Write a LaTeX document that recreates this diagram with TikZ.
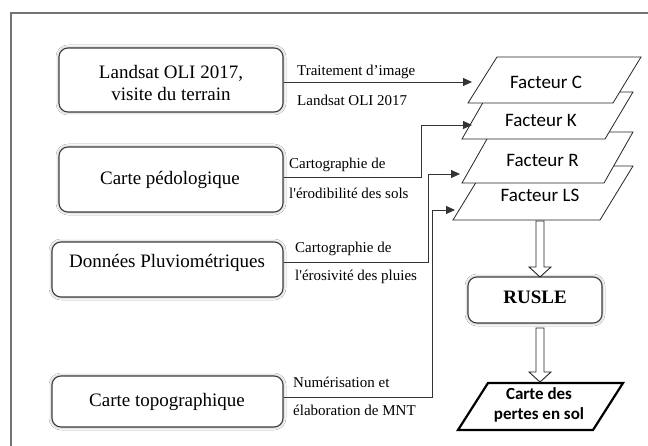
\documentclass[tikz,border=0pt]{standalone}
\usepackage{fontspec}
\setmainfont{Liberation Serif}
\newfontfamily\calfont{Carlito}
\usetikzlibrary{arrows.meta,shadows.blur,calc}
\begin{document}
\begin{tikzpicture}[x=1pt,y=-1pt,
  inbox/.style={draw=black!75,line width=1.1pt,rounded corners=9pt,fill=white,inner sep=0pt,
    blur shadow={shadow xshift=0pt,shadow yshift=0pt,shadow blur radius=3pt,shadow opacity=45}},
  boxtext/.style={font=\fontsize{19}{22}\selectfont,inner sep=0pt,align=center},
  lbl/.style={font=\fontsize{15}{17}\selectfont,anchor=west,inner sep=0pt},
  ln/.style={draw=black!80,line width=0.8pt},
  arr/.style={ln,-{Triangle[length=9pt,width=8pt]}},
  para/.style={draw=black!85,line width=0.8pt,fill=white},
  fac/.style={font=\calfont\fontsize{19}{22}\selectfont,inner sep=0pt},
  hollow/.style={draw=black!85,line width=0.9pt,fill=white}
]
\useasboundingbox (0,0) rectangle (648,446);
\fill[white] (0,0) rectangle (648,446);
\draw[black!55,line width=1.3pt] (11,447) -- (11,13) -- (649,13);

% left boxes
\node[inbox,minimum width=224pt,minimum height=64pt] (b1) at (171,80) {};
\node[inbox,minimum width=224pt,minimum height=65pt] (b2) at (171,179.5) {};
\node[inbox,minimum width=231pt,minimum height=55pt] (b3) at (167.5,269.5) {};
\node[inbox,minimum width=231pt,minimum height=51pt] (b4) at (167.5,401.5) {};
\node[boxtext] (t1) at (171,83) {Landsat OLI 2017,\\visite du terrain};
\node[boxtext] (t2) at (170,180) {Carte pédologique};
\node[boxtext] (t3) at (167,263) {Données Pluviométriques};
\node[boxtext] (t4) at (167,402) {Carte topographique};

% factor parallelograms (bottom first)
\path[para] (486,166) -- (633,166) -- (600,220) -- (453,220) -- cycle;
\path[para] (491,132) -- (633,132) -- (604,183) -- (462,183) -- cycle;
\path[para] (489,92) -- (633,92) -- (605,139) -- (462,139) -- cycle;
\path[para] (497,57) -- (641,57) -- (613,103) -- (468,103) -- cycle;
\node[fac] (fC) at (546,82) {Facteur C};
\node[fac] (fK) at (541,120) {Facteur K};
\node[fac] (fR) at (542.5,160) {Facteur R};
\node[fac] (fLS) at (540,195) {Facteur LS};

% RUSLE
\node[inbox,minimum width=134pt,minimum height=46pt] (rusle) at (535,300) {};
\node[font=\bfseries\fontsize{19}{22}\selectfont,inner sep=0pt] (rt) at (535,297) {RUSLE};

% result
\path[draw=black,line width=2.2pt,fill=white,line join=miter] (488,383) -- (623,383) -- (593,430) -- (458,430) -- cycle;
\node[font=\calfont\bfseries\fontsize{17}{20}\selectfont,inner sep=0pt,align=center] (carte) at (539,405) {Carte des\\pertes en sol};

% hollow arrows
\path[hollow] (536,221) -- (544,221) -- (544,267) -- (551,267) -- (540,277) -- (529,267) -- (536,267) -- cycle;
\path[hollow] (536,328) -- (544,328) -- (544,372) -- (551,372) -- (540,382) -- (529,372) -- (536,372) -- cycle;

% connector coordinates
\coordinate (tC) at (472,82);
\coordinate (vK) at (421,125);
\coordinate (tK) at (472,125);
\coordinate (vR) at (428,174);
\coordinate (tR) at (460,174);
\coordinate (vLS) at (432,210);
\coordinate (tLS) at (455,210);

\draw[arr] ([yshift=-2pt]b1.east) -- (tC);
\draw[arr] ([yshift=2pt]b2.east) -| (vK) -- (tK);
\draw[arr] ([yshift=7pt]b3.east) -| (vR) -- (tR);
\draw[arr] ([yshift=4.5pt]b4.east) -| (vLS) -- (tLS);

% labels
\node[lbl] (l1a) at (297,72) {Traitement d’image};
\node[lbl] (l1b) at (297,100) {Landsat OLI 2017};
\node[lbl] (l2a) at (289,165) {Cartographie de};
\node[lbl] (l2b) at (289,193) {l\textquotesingle érodibilité des sols};
\node[lbl] (l3a) at (295,249) {Cartographie de};
\node[lbl] (l3b) at (295,277) {l\textquotesingle érosivité des pluies};
\node[lbl] (l4a) at (293,382) {Numérisation et};
\node[lbl] (l4b) at (293,410) {élaboration de MNT};
\end{tikzpicture}
\end{document}
